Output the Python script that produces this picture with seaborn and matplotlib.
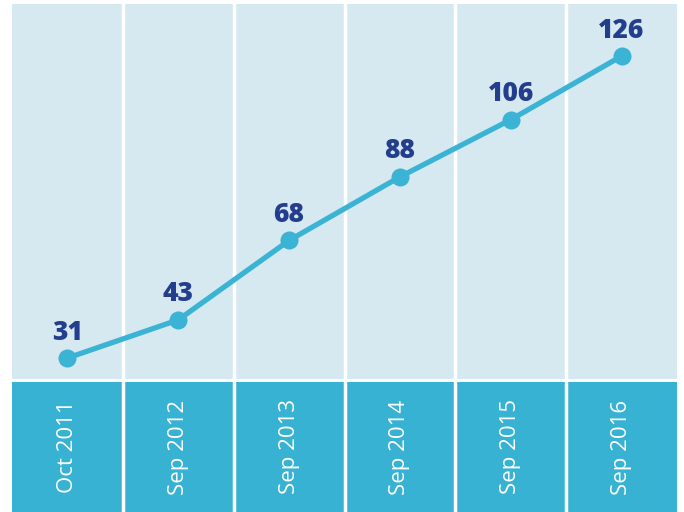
import numpy as np
import pandas as pd
import matplotlib
matplotlib.use("Agg")
import matplotlib.pyplot as plt
import seaborn as sns

periods = ["Oct 2011", "Sep 2012", "Sep 2013", "Sep 2014", "Sep 2015", "Sep 2016"]
counts = [31, 43, 68, 88, 106, 126]

BG = "#d6e9f1"
BAND = "#38b2d2"
LINE = "#3ab3d5"
LABEL = "#243e8e"

sns.set_style("white")
plt.rcParams['font.family'] = ['Open Sans', 'DejaVu Sans']

df = pd.DataFrame({'pos': np.arange(len(periods)), 'count': counts, 'period': periods})

fig = plt.figure(figsize=(6.84, 5.12), dpi=100)
W, H = 684, 512
ax = fig.add_axes([12 / W, (H - 379) / H, 665 / W, 375 / H])
band = fig.add_axes([12 / W, 0, 665 / W, 130 / H])

ax.set_facecolor(BG)
band.set_facecolor(BAND)

for a in (ax, band):
    a.set_xlim(-0.5, len(periods) - 0.5)
    for b in np.arange(0.5, len(periods) - 0.5, 1):
        a.axvline(b, color="white", lw=2.5, zorder=1)
    a.set_xticks([])
    a.set_yticks([])
    for s in a.spines.values():
        s.set_visible(False)

sns.lineplot(data=df, x='pos', y='count', ax=ax, color=LINE, lw=3.8,
             marker='o', markersize=13, markeredgewidth=0, zorder=3)
ax.set_ylim(24.4, 142.4)
ax.set_xlabel("")
ax.set_ylabel("")

for p, c in zip(df['pos'], df['count']):
    ax.annotate(str(c), (p, c), xytext=(0, 9), textcoords='offset points',
                ha='center', va='bottom', fontsize=19, fontweight=800, color=LABEL)

band.set_ylim(0, 1)
for p, lab in zip(df['pos'], df['period']):
    band.text(p, 0.5, lab, rotation=90, ha='center', va='center',
              color='white', fontsize=16)

fig.savefig("out.png", dpi=100, facecolor="white")
